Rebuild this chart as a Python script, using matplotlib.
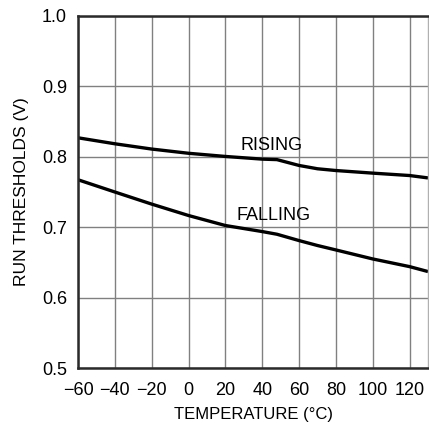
import numpy as np
import matplotlib.pyplot as plt

temp = [-60, -40, -20, 0, 20, 40, 48, 60, 70, 80, 100, 120, 130]
rising = [0.827, 0.8185, 0.811, 0.805, 0.8005, 0.7967, 0.796, 0.7877, 0.783, 0.7805, 0.7768, 0.7734, 0.770]
falling = [0.7674, 0.750, 0.7328, 0.7166, 0.7024, 0.6938, 0.690, 0.681, 0.674, 0.6677, 0.6549, 0.644, 0.637]

xticks = [-60, -40, -20, 0, 20, 40, 60, 80, 100, 120]
yticks = [0.5, 0.6, 0.7, 0.8, 0.9, 1.0]

plt.rcParams['font.family'] = ['Liberation Sans', 'DejaVu Sans']

fig = plt.figure(figsize=(4.29, 4.23), dpi=100)
# plot area: x 78..428 px, y 16..368 px
ax = fig.add_axes([78 / 429, 1 - 368 / 423, 350 / 429, 352 / 423])

ax.plot(temp, rising, color='black', lw=2.4, solid_capstyle='butt')
ax.plot(temp, falling, color='black', lw=2.4, solid_capstyle='butt')

ax.set_xlim(-60, 130)
ax.set_ylim(0.5, 1.0)
ax.set_xticks(xticks)
ax.set_xticklabels(['\u2212' + str(-t) if t < 0 else str(t) for t in xticks])
ax.set_yticks(yticks)
ax.set_yticklabels([f'{v:.1f}' for v in yticks])
ax.tick_params(length=0, labelsize=13)
ax.tick_params(axis='x', pad=10)
ax.tick_params(axis='y', pad=8)
ax.grid(True, color='#808080', lw=1.0)

for side in ['left', 'top', 'bottom']:
    ax.spines[side].set_linewidth(1.8)
    ax.spines[side].set_color('#2a2a2a')
ax.spines['right'].set_color('#b0b0b0')
ax.spines['right'].set_linewidth(1.0)

ax.text(45, 0.810, 'RISING', ha='center', va='baseline', fontsize=13)
ax.text(46, 0.7104, 'FALLING', ha='center', va='baseline', fontsize=13)

ax.set_xlabel('TEMPERATURE (\u00b0C)', fontsize=12, labelpad=6)
ax.set_ylabel('RUN THRESHOLDS (V)', fontsize=12.5, labelpad=9)

fig.savefig('out.png', dpi=100)
